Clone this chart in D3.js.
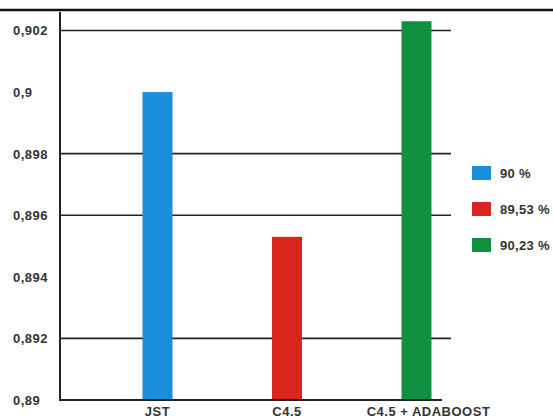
<!DOCTYPE html>
<html>
<head>
<meta charset="utf-8">
<script src="https://cdn.jsdelivr.net/npm/d3@7"></script>
<style>
  html, body { margin: 0; padding: 0; background: #fff; }
  svg { display: block; }
  text { font-family: "Liberation Sans", Arial, sans-serif; font-weight: bold; fill: #333; }
</style>
</head>
<body>
<svg id="chart" width="553" height="419"></svg>
<script>
// Classifier accuracy
const categories = ["JST", "C4.5", "C4.5 + ADABOOST"];
const values = [0.9, 0.8953, 0.9023];
const legendLabels = ["90 %", "89,53 %", "90,23 %"];
const colors = ["#1b8edb", "#d8261e", "#10913f"];
const tickValues = [0.89, 0.892, 0.894, 0.896, 0.898, 0.9, 0.902];
const tickLabels = ["0,89", "0,892", "0,894", "0,896", "0,898", "0,9", "0,902"];
const gridValues = [0.892, 0.896, 0.898, 0.902];

const svg = d3.select("#chart");

const y = d3.scaleLinear().domain([0.89, 0.9026]).range([400, 12]);
const x = d3.scalePoint().domain(categories).range([157.5, 416.5]);
const barWidth = 30;
const axisX = 60;

// heavy rule across the top
svg.append("line")
  .attr("x1", 0).attr("x2", 553).attr("y1", 10).attr("y2", 10)
  .attr("stroke", "#111").attr("stroke-width", 2.5);

// horizontal grid lines
svg.append("g").selectAll("line").data(gridValues).join("line")
  .attr("x1", axisX).attr("x2", 451)
  .attr("y1", d => y(d)).attr("y2", d => y(d))
  .attr("stroke", "#222").attr("stroke-width", 1.6);

// bars
svg.append("g").selectAll("rect").data(values).join("rect")
  .attr("x", (d, i) => x(categories[i]) - barWidth / 2)
  .attr("width", barWidth)
  .attr("y", d => y(d))
  .attr("height", d => y(0.89) - y(d))
  .attr("fill", (d, i) => colors[i]);

// baseline and vertical axis
svg.append("line")
  .attr("x1", axisX).attr("x2", 442).attr("y1", y(0.89)).attr("y2", y(0.89))
  .attr("stroke", "#222").attr("stroke-width", 2);
svg.append("line")
  .attr("x1", axisX).attr("x2", axisX).attr("y1", y.range()[1]).attr("y2", y(0.89) + 1)
  .attr("stroke", "#222").attr("stroke-width", 2);

// y tick labels, left aligned
svg.append("g").selectAll("text").data(tickValues).join("text")
  .attr("x", 13)
  .attr("y", d => y(d) + 5)
  .attr("font-size", 13)
  .attr("letter-spacing", 0.5)
  .text((d, i) => tickLabels[i]);

// category labels
const labelShift = [0, 0, 12];
svg.append("g").selectAll("text").data(categories).join("text")
  .attr("x", (d, i) => x(d) + labelShift[i])
  .attr("y", 416)
  .attr("text-anchor", "middle")
  .attr("font-size", 13)
  .attr("letter-spacing", 0.5)
  .text(d => d);

// legend
const legend = svg.append("g").selectAll("g").data(legendLabels).join("g")
  .attr("transform", (d, i) => `translate(472, ${166 + i * 36})`);
legend.append("rect")
  .attr("width", 19).attr("height", 14)
  .attr("fill", (d, i) => colors[i]);
legend.append("text")
  .attr("x", 28).attr("y", 12)
  .attr("font-size", 13)
  .attr("letter-spacing", 0.3)
  .text(d => d);
</script>
</body>
</html>
